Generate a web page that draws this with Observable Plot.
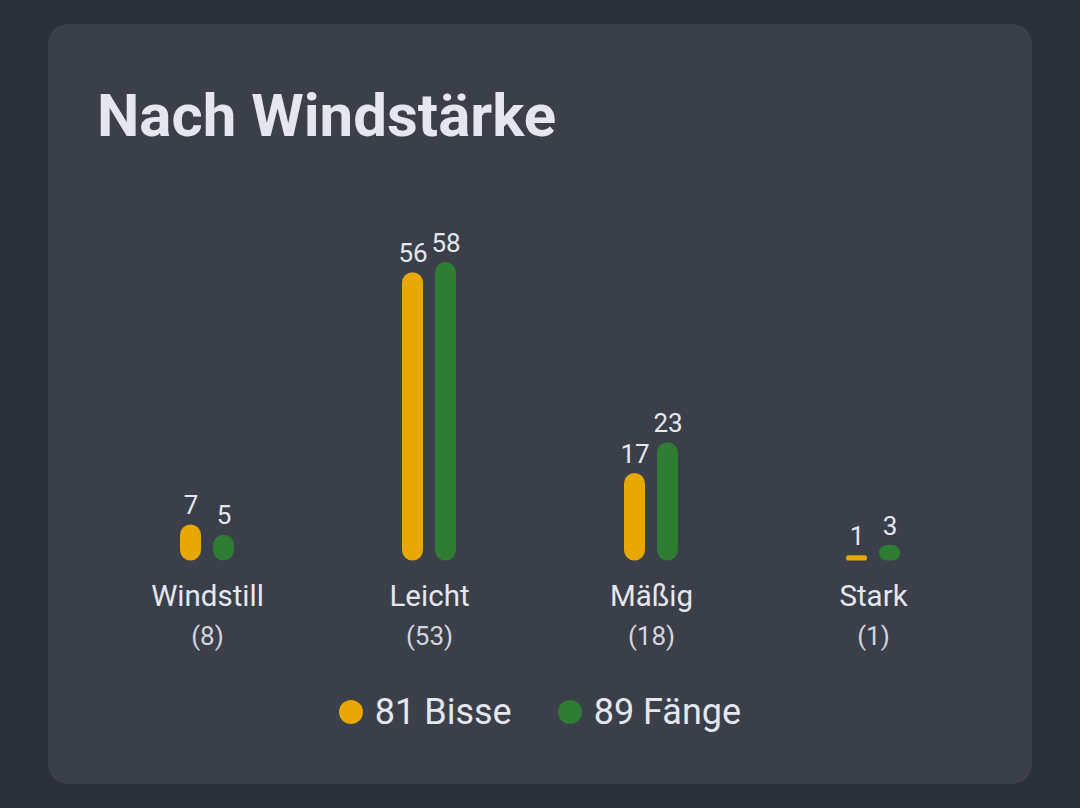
<!DOCTYPE html>
<html>
<head>
<meta charset="utf-8">
<script src="https://cdn.jsdelivr.net/npm/d3@7"></script>
<script src="https://cdn.jsdelivr.net/npm/@observablehq/plot@0.6"></script>
<style>
  html, body { margin: 0; padding: 0; }
  body { width: 1080px; height: 808px; background: #2b2f3a; font-family: Roboto, "Noto Sans", sans-serif; overflow: hidden; position: relative; }
  .card { position: absolute; left: 48px; top: 24px; width: 984px; height: 760px; border-radius: 20px; background: #3a3f4a; }
  .title { position: absolute; left: 49px; top: 62px; margin: 0; font-size: 60px; line-height: 1; font-weight: 700; color: #e4e7ee; white-space: nowrap; }
  #chart { position: absolute; left: 0; top: 156px; }
  .legend { position: absolute; left: 0; width: 984px; top: 668px; display: flex; justify-content: center; align-items: center; gap: 46px; font-size: 36px; color: #e4e7ee; line-height: 40px; }
  .legend .item { display: flex; align-items: center; gap: 12px; }
  .legend .dot { width: 24px; height: 24px; border-radius: 50%; display: inline-block; }
</style>
</head>
<body>
<div class="card">
  <h1 class="title">Nach Windstärke</h1>
  <div id="chart"></div>
  <div class="legend" id="legend"></div>
</div>
<script>
const categories = ["Windstill", "Leicht", "Mäßig", "Stark"];
const sessions = [8, 53, 18, 1];
const series = ["Bisse", "Fänge"];
const bisse = [7, 56, 17, 1];
const faenge = [5, 58, 23, 3];
const totals = [81, 89];
const colors = ["#e8a800", "#2e7d32"];

const rows = [];
categories.forEach((c, i) => {
  rows.push({category: c, series: "Bisse", value: bisse[i]});
  rows.push({category: c, series: "Fänge", value: faenge[i]});
});
const labels = categories.map((c, i) => ({category: c, name: c, count: `(${sessions[i]})`}));

const chart = Plot.plot({
  width: 984,
  height: 480,
  marginLeft: 48,
  marginRight: 48,
  marginTop: 82,
  marginBottom: 99.5,
  style: {background: "transparent", fontFamily: "Roboto, sans-serif", color: "#e4e7ee"},
  fx: {domain: categories, padding: 0, axis: null},
  x: {domain: series, paddingInner: 0.36, paddingOuter: 2.5, axis: null},
  y: {domain: [0, 58], axis: null},
  color: {domain: series, range: colors},
  marks: [
    Plot.barY(rows, {fx: "category", x: "series", y: "value", fill: "series"}),
    Plot.text(rows, {fx: "category", x: "series", y: "value", text: d => String(d.value), lineAnchor: "bottom", dy: -11, fontSize: 26, fill: "#e4e7ee"}),
    Plot.text(labels, {fx: "category", text: "name", frameAnchor: "bottom", lineAnchor: "bottom", dy: 44.5, fontSize: 29.5, fill: "#e4e7ee"}),
    Plot.text(labels, {fx: "category", text: "count", frameAnchor: "bottom", lineAnchor: "bottom", dy: 84, fontSize: 26, fill: "#d2d5dc"})
  ]
});

d3.select(chart).selectAll("rect").each(function() {
  const h = +this.getAttribute("height");
  const w = +this.getAttribute("width");
  if (!isNaN(h) && !isNaN(w)) {
    const r = Math.min(w / 2, h / 2);
    this.setAttribute("rx", r);
    this.setAttribute("ry", r);
  }
});
document.getElementById("chart").appendChild(chart);

const legend = d3.select("#legend");
series.forEach((s, i) => {
  const item = legend.append("div").attr("class", "item");
  item.append("span").attr("class", "dot").style("background", colors[i]);
  item.append("span").text(`${totals[i]} ${s}`);
});
</script>
</body>
</html>
